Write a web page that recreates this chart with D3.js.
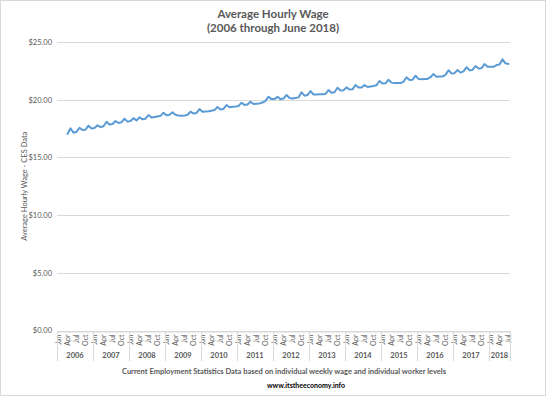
<!DOCTYPE html>
<html>
<head>
<meta charset="utf-8">
<script src="https://cdn.jsdelivr.net/npm/d3@7/dist/d3.min.js"></script>
<style>
  html, body { margin: 0; padding: 0; background: #fff; }
  svg { display: block; }
</style>
</head>
<body>
<svg id="chart" width="546" height="396"></svg>
<script>
// ---- data ----
const years = [2006, 2007, 2008, 2009, 2010, 2011, 2012, 2013, 2014, 2015, 2016, 2017, 2018];
const monthNames = ["Jan","Feb","Mar","Apr","May","Jun","Jul","Aug","Sep","Oct","Nov","Dec"];
const monthsIn2018 = 7;
const tickMonths = ["Jan","Apr","Jul","Oct"];
const yTicks = [0, 5, 10, 15, 20, 25];
const wages = [
  null, null, null, 17.03, 17.52, 17.14, 17.22, 17.57, 17.38, 17.40, 17.75, 17.50,
  17.55, 17.78, 17.62, 17.70, 18.09, 17.85, 17.90, 18.15, 17.98, 18.05, 18.35, 18.10,
  18.15, 18.40, 18.20, 18.47, 18.30, 18.35, 18.67, 18.45, 18.50, 18.55, 18.60, 18.87,
  18.65, 18.70, 18.90, 18.70, 18.62, 18.60, 18.62, 18.70, 18.96, 18.80, 18.85, 19.19,
  18.95, 18.98, 19.00, 19.05, 19.10, 19.37, 19.15, 19.20, 19.54, 19.35, 19.38, 19.40,
  19.45, 19.74, 19.55, 19.58, 19.83, 19.62, 19.65, 19.68, 19.75, 19.90, 20.26, 20.05,
  20.05, 20.26, 20.05, 20.10, 20.41, 20.15, 20.10, 20.15, 20.20, 20.64, 20.35, 20.40,
  20.75, 20.45, 20.45, 20.48, 20.48, 20.50, 20.84, 20.60, 20.65, 21.04, 20.80, 20.82,
  21.07, 20.88, 20.90, 21.27, 21.05, 21.05, 21.27, 21.10, 21.15, 21.18, 21.25, 21.62,
  21.40, 21.42, 21.73, 21.48, 21.45, 21.45, 21.45, 21.55, 21.94, 21.70, 21.72, 22.08,
  21.80, 21.78, 21.80, 21.80, 21.95, 22.23, 21.98, 22.00, 22.00, 22.15, 22.55, 22.28,
  22.30, 22.57, 22.35, 22.45, 22.81, 22.55, 22.58, 22.92, 22.70, 22.72, 23.09, 22.85,
  22.85, 22.85, 23.00, 23.05, 23.50, 23.15, 23.10
];
const titleLines = ["Average Hourly Wage", "(2006 through June 2018)"];
const yAxisTitle = "Average Hourly Wage - CES Data";
const xAxisTitle = "Current Employment Statistics Data based on individual weekly wage and individual worker levels";
const sourceText = "www.itstheeconomy.info";

(function () {
// ---- build categories ----
const cats = [];
years.forEach(yr => {
  const n = yr === 2018 ? monthsIn2018 : 12;
  for (let m = 0; m < n; m++) cats.push({ key: yr + "-" + m, year: yr, month: monthNames[m] });
});
const series = cats.map((c, i) => ({ key: c.key, value: wages[i] }));

const svg = d3.select("#chart");
const W = 546, H = 396;
const pLeft = 57, pRight = 510, pTop = 42, pBottom = 330.5;
const font = "Lato, 'Open Sans', sans-serif";
const grey = "#595959";

svg.append("rect").attr("x", 0.5).attr("y", 0.5).attr("width", W - 1).attr("height", H - 1)
  .attr("fill", "#fff").attr("stroke", "#d9d9d9");

const x = d3.scaleBand().domain(cats.map(c => c.key)).range([pLeft, pRight]).padding(0);
const y = d3.scaleLinear().domain([0, 25]).range([pBottom, pTop]);

// gridlines
svg.append("g").selectAll("line").data(yTicks).join("line")
  .attr("x1", pLeft).attr("x2", pRight)
  .attr("y1", d => Math.round(y(d)) + 0.5).attr("y2", d => Math.round(y(d)) + 0.5)
  .attr("stroke", "#d9d9d9").attr("stroke-width", 1);

// y labels
const yAxis = d3.axisLeft(y).tickValues(yTicks).tickSize(0).tickPadding(5)
  .tickFormat(d => "$" + d.toFixed(2));
const gy = svg.append("g").attr("transform", `translate(${pLeft},0)`).call(yAxis);
gy.select(".domain").remove();
gy.selectAll("text").attr("font-family", font).attr("font-size", 7.5).attr("fill", grey);

// x axis month labels
const xAxis = d3.axisBottom(x)
  .tickValues(cats.filter(c => tickMonths.includes(c.month)).map(c => c.key))
  .tickSize(0)
  .tickFormat(k => cats.find(c => c.key === k).month);
const gx = svg.append("g").attr("transform", `translate(0,${Math.round(pBottom) + 0.5})`).call(xAxis);
gx.select(".domain").attr("stroke", "#d9d9d9");
gx.selectAll("text")
  .attr("font-family", font).attr("font-size", 7).attr("fill", grey)
  .attr("text-anchor", "end").attr("dy", "0.32em")
  .attr("transform", "translate(0,3) rotate(-90)")
  .attr("x", 0).attr("y", 0);

// year separators & labels
const yearBounds = years.map(yr => {
  const yc = cats.filter(c => c.year === yr);
  return { year: yr, x0: x(yc[0].key), x1: x(yc[yc.length - 1].key) + x.bandwidth() };
});
const sepXs = [yearBounds[0].x0].concat(yearBounds.map(b => b.x1));
svg.append("g").selectAll("line").data(sepXs).join("line")
  .attr("x1", d => Math.round(d) + 0.5).attr("x2", d => Math.round(d) + 0.5)
  .attr("y1", Math.round(pBottom)).attr("y2", 361)
  .attr("stroke", "#d9d9d9");
svg.append("g").selectAll("text").data(yearBounds).join("text")
  .attr("x", d => (d.x0 + d.x1) / 2).attr("y", 358)
  .attr("text-anchor", "middle").attr("font-family", font).attr("font-size", 7.5)
  .attr("font-weight", "bold").attr("fill", grey)
  .text(d => d.year);

// line
const line = d3.line()
  .defined(d => d.value != null)
  .x(d => x(d.key) + x.bandwidth() / 2)
  .y(d => y(d.value));
svg.append("path").datum(series)
  .attr("fill", "none").attr("stroke", "#5b9bd5").attr("stroke-width", 2)
  .attr("stroke-linejoin", "round").attr("stroke-linecap", "round")
  .attr("d", line);

// titles
svg.append("text").attr("x", 273).attr("y", 18).attr("text-anchor", "middle")
  .attr("font-family", font).attr("font-size", 11.5).attr("font-weight", "bold").attr("fill", grey)
  .text(titleLines[0]);
svg.append("text").attr("x", 273).attr("y", 32).attr("text-anchor", "middle")
  .attr("font-family", font).attr("font-size", 11.5).attr("font-weight", "bold").attr("fill", grey)
  .text(titleLines[1]);

svg.append("text")
  .attr("transform", `translate(27,${(pTop + pBottom) / 2}) rotate(-90)`)
  .attr("text-anchor", "middle").attr("font-family", font).attr("font-size", 7.5).attr("fill", grey)
  .text(yAxisTitle);

svg.append("text").attr("x", 284).attr("y", 374).attr("text-anchor", "middle")
  .attr("font-family", font).attr("font-size", 7.5).attr("font-weight", "bold").attr("fill", grey)
  .text(xAxisTitle);

svg.append("text").attr("x", 306).attr("y", 388).attr("text-anchor", "middle")
  .attr("font-family", font).attr("font-size", 7).attr("font-weight", "bold").attr("fill", "#000")
  .text(sourceText);
})();
</script>
</body>
</html>
